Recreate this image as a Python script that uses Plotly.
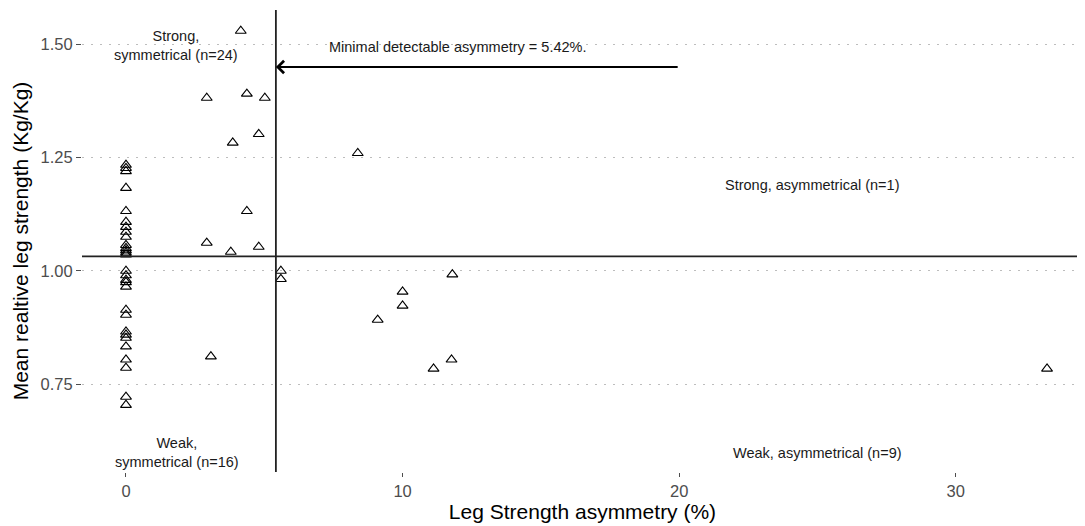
import plotly.graph_objects as go

# Data: leg strength asymmetry (%) and mean relative leg strength (Kg/Kg)
asym_zero_strong = [1.234, 1.227, 1.22, 1.183, 1.132, 1.108, 1.097, 1.086, 1.075, 1.057, 1.05, 1.045, 1.04, 1.036]
asym_zero_weak = [1.00, 0.99, 0.98, 0.975, 0.965, 0.914, 0.903, 0.866, 0.859, 0.852, 0.833, 0.804, 0.786, 0.722, 0.704]
other_x = [4.15, 2.92, 4.37, 5.02, 3.86, 4.80, 8.38, 4.37, 2.92, 3.79, 4.80, 5.60, 5.60, 11.8, 10.0, 10.0, 9.1, 11.12, 11.77, 3.07, 33.3]
other_y = [1.53, 1.382, 1.391, 1.382, 1.283, 1.302, 1.26, 1.132, 1.062, 1.042, 1.053, 1.00, 0.982, 0.992, 0.954, 0.923, 0.892, 0.784, 0.804, 0.811, 0.784]

x_vals = [0.0] * len(asym_zero_strong) + [0.0] * len(asym_zero_weak) + other_x
y_vals = asym_zero_strong + asym_zero_weak + other_y

mda = 5.42           # minimal detectable asymmetry
mean_strength = 1.032
arrow_start_x = 20
arrow_y = 1.45

x_ticks = [0, 10, 20, 30]
y_ticks = [0.75, 1.00, 1.25, 1.50]
y_tick_labels = ["0.75", "1.00", "1.25", "1.50"]

labels = [
    {"x": 1.8, "y": 1.497, "text": "Strong,<br>symmetrical (n=24)"},
    {"x": 1.85, "y": 0.60, "text": "Weak,<br>symmetrical (n=16)"},
    {"x": 24.8, "y": 1.19, "text": "Strong, asymmetrical (n=1)"},
    {"x": 25.0, "y": 0.598, "text": "Weak, asymmetrical (n=9)"},
    {"x": 12.0, "y": 1.495, "text": "Minimal detectable asymmetry = 5.42%."},
]

FONT = "Liberation Sans, Arial, Helvetica, sans-serif"

fig = go.Figure()
fig.add_trace(go.Scatter(
    x=x_vals, y=y_vals, mode="markers",
    marker=dict(symbol="triangle-up-open", size=9.5, color="black", line=dict(width=1.1, color="black")),
    showlegend=False, hoverinfo="x+y",
))

fig.add_shape(type="line", xref="x", yref="paper", x0=mda, x1=mda, y0=0, y1=1,
              line=dict(color="#222222", width=1.8))
fig.add_shape(type="line", xref="paper", yref="y", x0=0, x1=1, y0=mean_strength, y1=mean_strength,
              line=dict(color="#222222", width=1.8))

fig.add_annotation(x=mda, y=arrow_y, ax=arrow_start_x, ay=arrow_y, xref="x", yref="y",
                   axref="x", ayref="y", text="", showarrow=True,
                   arrowhead=4, arrowsize=1.2, arrowwidth=2, arrowcolor="black", standoff=0)

for lab in labels:
    fig.add_annotation(x=lab["x"], y=lab["y"], xref="x", yref="y", text=lab["text"],
                       showarrow=False, font=dict(family=FONT, size=14.5, color="#1a1a1a"),
                       align="center")

fig.update_layout(
    width=1077, height=518,
    margin=dict(l=74, r=2, t=2, b=54),
    paper_bgcolor="white", plot_bgcolor="white",
    font=dict(family=FONT),
    xaxis=dict(
        range=[-1.59, 34.6], tickmode="array", tickvals=x_ticks,
        showgrid=False, zeroline=False, showline=False, automargin=False,
        ticks="outside", ticklen=4, tickwidth=1.2, tickcolor="#4d4d4d",
        tickfont=dict(size=16.5, color="#4d4d4d"),
        title=dict(text="Leg Strength asymmetry (%)", font=dict(size=21, color="black"), standoff=4),
    ),
    yaxis=dict(
        range=[0.556, 1.576], tickmode="array", tickvals=y_ticks, ticktext=y_tick_labels,
        showgrid=True, gridcolor="#bdbdbd", gridwidth=1.2, griddash="2px,7px",
        zeroline=False, showline=False, automargin=False,
        ticks="outside", ticklen=5, tickwidth=1.2, tickcolor="#4d4d4d",
        tickfont=dict(size=16.5, color="#4d4d4d"),
        title=dict(text="Mean realtive leg strength (Kg/Kg)", font=dict(size=21, color="black"), standoff=6),
    ),
)

fig.write_html("out.html")
